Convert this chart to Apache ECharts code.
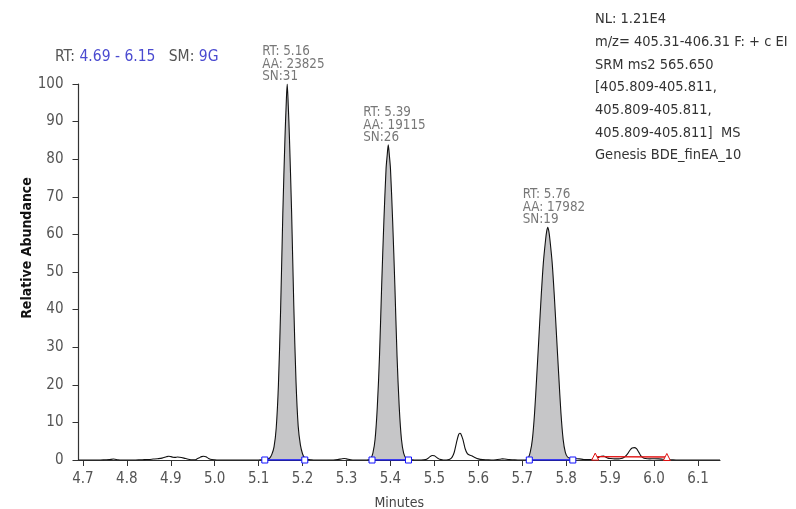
<!DOCTYPE html>
<html>
<head>
<meta charset="utf-8">
<script src="https://cdn.jsdelivr.net/npm/echarts@6/dist/echarts.min.js"></script>
<style>html,body{margin:0;padding:0;background:#fff}#c{width:796px;height:509px}</style>
</head>
<body>
<div id="c"></div>
<script>
// Retention time (min) and relative abundance (%) of the chromatogram trace
var times = [4.69,4.70,4.71,4.72,4.73,4.74,4.75,4.76,4.77,4.78,4.79,4.80,4.81,4.82,4.83,4.84,4.85,4.86,4.87,4.88,4.89,4.895,4.90,4.905,4.91,4.915,4.92,4.93,4.94,4.95,4.955,4.96,4.965,4.97,4.975,4.98,4.985,4.99,5.00,5.01,5.02,5.03,5.04,5.05,5.06,5.07,5.08,5.09,5.10,5.105,5.11,
  5.115,5.12,5.125,5.13,5.135,5.14,5.145,5.15,5.155,5.16,5.1625,5.165,5.1675,5.17,5.175,5.18,5.185,5.19,5.195,5.20,5.205,5.21,5.22,5.23,5.24,5.25,5.26,5.27,5.28,5.29,5.295,5.30,5.31,5.32,5.33,5.34,5.35,
  5.355,5.36,5.365,5.37,5.375,5.38,5.385,5.39,5.3925,5.395,5.3975,5.40,5.405,5.41,5.415,5.42,5.425,5.43,5.435,5.44,5.45,5.46,5.47,5.48,5.485,5.49,5.495,5.50,5.505,5.51,5.515,5.52,5.525,5.53,5.535,5.54,5.545,5.55,5.555,5.558,5.56,5.565,5.57,5.575,5.58,5.585,5.59,5.60,5.61,5.62,5.63,5.64,5.65,5.655,5.66,5.67,5.68,5.69,5.70,5.71,
  5.713,5.718,5.723,5.728,5.733,5.738,5.743,5.748,5.753,5.7555,5.758,5.7605,5.763,5.768,5.773,5.778,5.783,5.788,5.793,5.798,5.803,5.81,5.815,
  5.82,5.825,5.83,5.84,5.85,5.86,5.87,5.875,5.88,5.885,5.89,5.895,5.90,5.91,5.92,5.925,5.93,5.935,5.94,5.945,5.95,5.955,5.96,5.965,5.97,5.975,5.98,5.99,6.00,6.01,6.02,6.03,6.04,6.05,6.06,6.08,6.10,6.12,6.14,6.15];
var abundance = [0,0,0,0,0,0,0.05,0.1,0.25,0.05,0,0,0,0,0.05,0.1,0.15,0.25,0.35,0.5,0.85,1.0,0.9,0.75,0.7,0.8,0.75,0.5,0.2,0.05,0.05,0.3,0.6,0.9,1.0,0.85,0.5,0.2,0.05,0,0,0,0,0,0,0,0,0,0,0.05,0.1,
  0.15,0.3,0.5,1.5,3.5,8.5,20,40,65.5,86,94,100,94,86,66,41,21,9,4,1.6,0.5,0.2,0.05,0,0,0,0,0,0.1,0.35,0.4,0.3,0.05,0,0,0,0.05,
  0.3,1.8,5.5,14,27.5,46.5,63.5,77.5,81,83.8,81,77.5,63.5,46.5,27.5,14,5.5,1.8,0.5,0.2,0.05,0,0,0.1,0.4,0.9,1.2,1.1,0.7,0.3,0.1,0,0,0.05,0.2,0.7,2.0,4.5,6.7,7.1,7.0,5.4,3.0,1.7,1.3,1.1,0.8,0.3,0.1,0.05,0,0.05,0.2,0.3,0.25,0.1,0.05,0,0,0.05,
  0.3,2.0,5.5,12.5,22.5,33,43.5,52.5,58.5,60.8,61.9,60.8,58.5,52.5,43.5,33,22.5,12.5,5.5,2.0,0.8,0.4,0.3,
  0.3,0.35,0.3,0.15,0.1,0.2,0.5,0.8,1.0,1.05,0.8,0.5,0.4,0.3,0.3,0.4,0.6,1.0,1.7,2.6,3.2,3.3,3.0,2.1,1.1,0.6,0.4,0.3,0.35,0.3,0.2,0.1,0.05,0,0,0,0,0,0,0];

// Integrated peaks: apex RT, label values, baseline start / end
var peakRT    = [5.16, 5.39, 5.76];
var peakApexT = [5.165, 5.395, 5.758];
var peakApexY = [100, 83.8, 61.9];
var peakAA    = [23825, 19115, 17982];
var peakSN    = [31, 26, 19];
var peakStart = [5.114, 5.358, 5.716];
var peakEnd   = [5.205, 5.441, 5.815];
// Unintegrated (red) baseline
var redStart = [5.866, 0.9];
var redEnd   = [6.029, 0.8];

var xTicks = [4.7,4.8,4.9,5.0,5.1,5.2,5.3,5.4,5.5,5.6,5.7,5.8,5.9,6.0,6.1];
var rtRange = ['4.69', '6.15'];
var smoothing = '9G';
var infoLines = ['NL: 1.21E4','m/z= 405.31-406.31 F: + c EI','SRM ms2 565.650','[405.809-405.811,','405.809-405.811,','405.809-405.811]  MS','Genesis BDE_finEA_10'];

var FONT = "'DejaVu Sans Condensed','Liberation Sans Narrow',sans-serif";

var trace = times.map(function(t,i){ return [t, abundance[i]]; });
var series = [];
for (var p = 0; p < peakStart.length; p++) {
  (function(p){
    var seg = [[peakStart[p], 0]];
    trace.forEach(function(d){ if (d[0] > peakStart[p] && d[0] < peakEnd[p]) seg.push(d); });
    seg.push([peakEnd[p], 0]);
    series.push({type:'line', data: seg, symbol:'none', silent:true, z:1, smooth:0.3,
      lineStyle:{width:0}, areaStyle:{color:'#c6c6c8', opacity:1, origin:0}});
  })(p);
}
series.push({type:'line', data: trace, symbol:'none', silent:true, z:3, smooth:0.3,
  lineStyle:{color:'#111', width:1.1}});
for (var q = 0; q < peakStart.length; q++) {
  series.push({type:'line', data:[[peakStart[q],0],[peakEnd[q],0]], z:4, silent:true,
    symbol:'rect', symbolSize:6, showAllSymbol:true,
    itemStyle:{color:'#fff', borderColor:'#1010ff', borderWidth:1},
    lineStyle:{color:'#1010ff', width:1.3}});
}
series.push({type:'line', data:[redStart, redEnd], z:4, silent:true,
  symbol:'triangle', symbolSize:7,
  itemStyle:{color:'#fff', borderColor:'#e01010', borderWidth:1},
  lineStyle:{color:'#e01010', width:1.3}});
series.push({type:'scatter', z:5, silent:true, symbolSize:0,
  data: peakApexT.map(function(t,i){ return {value:[t, peakApexY[i]], rt:peakRT[i], aa:peakAA[i], sn:peakSN[i]}; }),
  label:{show:true, position:'top', align:'left', verticalAlign:'bottom', offset:[-25,-1], distance:0,
    fontFamily:FONT, fontSize:13.3, lineHeight:12.5, color:'#555',
    formatter:function(pr){ var d = pr.data; return 'RT: ' + d.rt.toFixed(2) + '\nAA: ' + d.aa + '\nSN:' + d.sn; }}});

var chart = echarts.init(document.getElementById('c'), null, {renderer:'canvas'});
chart.setOption({
  animation:false,
  backgroundColor:'#fff',
  title:{
    left:55, top:49, padding:0,
    text:'{g|RT:} {b|' + rtRange[0] + ' - ' + rtRange[1] + '}   {g|SM:} {b|' + smoothing + '}',
    textStyle:{fontFamily:FONT, fontSize:15.5, fontWeight:'normal',
      rich:{g:{color:'#555', fontFamily:FONT, fontSize:15.5}, b:{color:'#4a4ad0', fontFamily:FONT, fontSize:15.5}}}
  },
  graphic:[
    {type:'text', left:595, top:8, style:{text: infoLines.join('\n'), fontFamily:FONT, fontSize:14.5, lineHeight:22.7, fill:'#333'}},
    {type:'text', x:27, y:248, rotation:Math.PI/2, style:{text:'Relative Abundance', fontFamily:FONT, fontSize:14, fontWeight:'bold', fill:'#111', align:'center', verticalAlign:'middle'}}
  ],
  grid:{left:78.5, right:76, top:84, bottom:49, containLabel:false, outerBoundsMode:'none'},
  xAxis:{type:'value', min:4.69, max:6.15,
    name:'Minutes', nameLocation:'middle', nameGap:36,
    nameTextStyle:{fontFamily:FONT, fontSize:14, color:'#444'},
    axisLine:{show:true, lineStyle:{color:'#333', width:1.2}},
    axisTick:{show:true, length:6, customValues:xTicks, lineStyle:{color:'#333'}},
    axisLabel:{customValues:xTicks, margin:12, fontFamily:FONT, fontSize:15, color:'#555',
      formatter:function(v){ return v.toFixed(1); }},
    splitLine:{show:false}},
  yAxis:{type:'value', min:0, max:100, interval:10,
    axisLine:{show:true, lineStyle:{color:'#333', width:1.2}},
    axisTick:{show:true, length:6, lineStyle:{color:'#333'}},
    axisLabel:{margin:15, fontFamily:FONT, fontSize:15, color:'#555'},
    splitLine:{show:false}},
  series: series
});
</script>
</body>
</html>
